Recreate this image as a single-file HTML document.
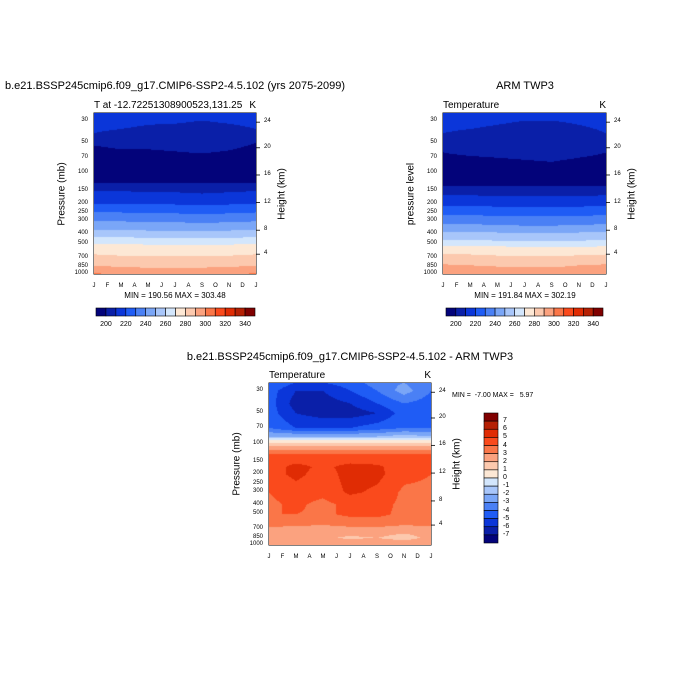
<!DOCTYPE html>
<html><head><meta charset="utf-8">
<style>
body{margin:0;background:#fff;}
#root{position:relative;width:700px;height:700px;background:#fff;font-family:"Liberation Sans",sans-serif;color:#000;}
.t{position:absolute;white-space:pre;}
canvas{position:absolute;}
svg{position:absolute;left:0;top:0;}
</style></head>
<body>
<div id="root">
<svg id="ov" width="700" height="700"></svg>
</div>
<script>
// ---- data ----
const months = ["J","F","M","A","M","J","J","A","S","O","N","D","J"];
const gridMonths = [0,2,4,6,8,10,12];
const pTicks = [30,50,70,100,150,200,250,300,400,500,700,850,1000];
const hTicks = ["24","20","16","12","8","4"];
const hTickFrac = [0.057,0.216,0.385,0.556,0.728,0.877];
const tLevels = [200,210,220,230,240,250,260,270,280,290,300,310,320,330,340];
const tLabels = ["200","220","240","260","280","300","320","340"];
const dLevels = [-7,-6,-5,-4,-3,-2,-1,0,1,2,3,4,5,6,7];
const dLabels = ["7","6","5","4","3","2","1","0","-1","-2","-3","-4","-5","-6","-7"];
const colors = ["#03037a","#0a1fa8","#0b36d9","#1f5cf5","#4a80f5","#7aa6f7","#a8c6fa","#d3e6fc","#fde8d5","#fcc9ae","#fba27f","#fa7648","#fa4a1c","#e02c04","#b52004","#800000"];

const modelP = [25,30,40,50,70,100,125,150,200,250,300,400,500,600,700,850,925,1000];
const modelT = [
[214,214,213,213,212,213,214],
[212,212,211,211,210,211,212],
[210,209,208,207,206,207,209],
[201,203,203,204,205,203,200],
[195,196,196,197,198,197,195],
[193,194,194,195,195,194,193],
[200,200,200,200,200,200,200],
[210,210,209,209,208,209,210],
[220,220,219,219,218,219,220],
[231,231,230,230,229,230,231],
[240,240,239,239,238,239,240],
[255,255,254,254,253,254,255],
[270,270,269,269,268,269,270],
[278,277,277,277,277,277,278],
[283,282,282,282,282,282,283],
[291,290,289,289,289,290,291],
[296,295,293,293,294,295,296],
[301,300,298,298,299,300,301]];

const obsP = [25,30,40,50,62,70,77,100,135,150,165,210,260,320,380,460,530,640,820,1000];
const obsT = [
[214,214,214,214,214,214,214],
[212,212,211,210,210,211,212],
[210,209,208,207,206,208,210],
[205,205,205,205,205,205,205],
[200,202,203,204,204,203,200],
[198,199,200,201,202,200,198],
[196,197,198,199,200,198,196],
[193,193,194,194,194,194,193],
[200,200,200,200,200,200,200],
[205,205,205,205,205,205,205],
[210,210,209,209,209,209,210],
[220,220,219,219,219,219,220],
[230,230,229,229,229,229,230],
[240,240,239,238,238,239,240],
[250,250,249,248,248,249,250],
[260,260,259,258,258,259,260],
[270,270,270,269,269,269,270],
[280,280,279,279,279,279,280],
[291,290,289,288,288,290,291],
[298,297,296,296,296,297,298]];

const diffP = [25,30,40,50,70,85,95,110,130,170,200,300,400,500,600,700,850,1000];
const diffT = [
[-4,-5,-5,-4.5,-3.5,-3,-4],
[-4.5,-6,-6,-5,-4,-2.5,-4],
[-4.5,-6.5,-6.5,-6,-5,-4,-4.5],
[-4.5,-6,-6.5,-6.5,-6,-4.5,-4.5],
[-4,-5,-5,-5,-4.5,-4,-4],
[-2,-2,-2,-2,-2,-1.5,-2],
[0.5,0.5,0.5,0.5,0.5,0.5,0.5],
[2.5,2.5,2.5,2.5,2.5,2.5,2.5],
[4.2,4.3,4.3,4.3,4.2,4.2,4.2],
[4.5,5.3,4.8,5.3,5.2,4.4,4.2],
[4.5,5.3,4.5,5.4,5.3,4.3,4.0],
[4.0,4.5,4.3,5.2,4.8,3.8,3.8],
[3.8,4.2,3.7,4.3,4.3,3.8,3.8],
[4.0,4.0,3.8,4.2,4.2,3.8,3.8],
[3.5,3.5,3.3,3.5,3.6,3.3,3.5],
[2.8,2.5,2.5,2.7,2.7,2.5,2.6],
[2.6,2.3,2.2,1.8,2.0,1.5,2.3],
[3,3,3,3,3,3,3]];

// ---- helpers ----
const root = document.getElementById('root');
const ov = document.getElementById('ov');
const NS = "http://www.w3.org/2000/svg";
const P_TOP = 25.2, P_BOT = 1000;
function text(x,y,s,size,opts){
  const d=document.createElement('div');
  d.className='t';d.textContent=s;d.style.fontSize=size+'px';
  d.style.left=x+'px';d.style.top=y+'px';
  if(opts&&opts.align==='center')d.style.transform='translateX(-50%)';
  if(opts&&opts.align==='right')d.style.transform='translateX(-100%)';
  if(opts&&opts.rot){d.style.transform='translate(-50%,-50%) rotate(-90deg)';}
  
  
  root.appendChild(d);return d;
}
function line(x1,y1,x2,y2,w){
  const l=document.createElementNS(NS,'line');
  l.setAttribute('x1',x1);l.setAttribute('y1',y1);l.setAttribute('x2',x2);l.setAttribute('y2',y2);
  l.setAttribute('stroke','#000');l.setAttribute('stroke-width',w||0.8);
  
  
  ov.appendChild(l);
}
function interp(P,G,p,m){
  const lp=Math.log(p);
  let i=0;while(i<P.length-2&&Math.log(P[i+1])<lp)i++;
  let fy=(lp-Math.log(P[i]))/(Math.log(P[i+1])-Math.log(P[i]));fy=Math.max(0,Math.min(1,fy));
  let j=0;while(j<gridMonths.length-2&&gridMonths[j+1]<m)j++;
  let fx=(m-gridMonths[j])/(gridMonths[j+1]-gridMonths[j]);fx=Math.max(0,Math.min(1,fx));
  const a=G[i][j]*(1-fx)+G[i][j+1]*fx, b=G[i+1][j]*(1-fx)+G[i+1][j+1]*fx;
  return a*(1-fy)+b*fy;
}
function levelIdx(v,levels){let k=0;while(k<levels.length&&v>=levels[k])k++;return k;}

function panel(o){
  const W=o.x1-o.x0,H=o.y1-o.y0;
  const yOf=p=>o.y0+(Math.log(p)-Math.log(P_TOP))/(Math.log(P_BOT)-Math.log(P_TOP))*H;
  const xOf=m=>o.x0+m/12*W;
  const c=document.createElement('canvas');
  c.width=W;c.height=H;c.style.left=o.x0+'px';c.style.top=o.y0+'px';
  
  
  root.appendChild(c);
  const ctx=c.getContext('2d');
  for(let py=0;py<H;py++){
    const p=Math.exp(Math.log(P_TOP)+(py+0.5)/H*(Math.log(P_BOT)-Math.log(P_TOP)));
    for(let px=0;px<W;px++){
      const m=(px+0.5)/W*12;
      const v=interp(o.P,o.G,p,m);
      ctx.fillStyle=colors[levelIdx(v,o.levels)];
      ctx.fillRect(px,py,1,1);
    }
  }
  const r=document.createElementNS(NS,'rect');
  r.setAttribute('x',o.x0);r.setAttribute('y',o.y0);r.setAttribute('width',W);r.setAttribute('height',H);
  r.setAttribute('fill','none');r.setAttribute('stroke','#000');r.setAttribute('stroke-width',1);
  
  
  ov.appendChild(r);
  months.forEach((mn,i)=>{
    const x=xOf(i);
    line(x,o.y1,x,o.y1-4);line(x,o.y0,x,o.y0+4);
    text(x,o.y1+9,mn,6,{align:'center',name:'month-tick-label'});
  });
  pTicks.forEach(p=>{
    const y=yOf(p);
    line(o.x0,y,o.x0+4,y);line(o.x1,y,o.x1-4,y);
    text(o.x0-6,y-4,String(p),6,{align:'right',name:'pressure-tick-label'});
  });
  hTicks.forEach((h,i)=>{
    const y=o.y0+hTickFrac[i]*H;
    line(o.x1,y,o.x1+4,y);
    text(o.x1+8,y-4,h,6,{name:'height-tick-label'});
  });
  text(o.x0-32,(o.y0+o.y1)/2,o.ylab,10,{rot:true,name:'y-axis-title'});
  text(o.x1+26,(o.y0+o.y1)/2,'Height (km)',10,{rot:true,name:'height-axis-title'});
  text(o.x0,o.y0-13,o.left,10,{name:'subtitle-left'});
  text(o.x1,o.y0-13,'K',10,{align:'right',name:'units-label'});
}
function hbar(x0,x1,y0,y1,name){
  const n=colors.length,w=(x1-x0)/n;
  colors.forEach((col,i)=>{
    const r=document.createElementNS(NS,'rect');
    r.setAttribute('x',x0+i*w);r.setAttribute('y',y0);r.setAttribute('width',w);r.setAttribute('height',y1-y0);
    r.setAttribute('fill',col);r.setAttribute('stroke','#000');r.setAttribute('stroke-width',0.6);
    
    
    ov.appendChild(r);
  });
  tLabels.forEach((s,i)=>text(x0+(2*i+1)*w,y1+5,s,7,{align:'center',name:name+'-label'}));
}
function vbar(x0,x1,y0,y1,name){
  const n=colors.length,h=(y1-y0)/n;
  colors.slice().reverse().forEach((col,i)=>{
    const r=document.createElementNS(NS,'rect');
    r.setAttribute('x',x0);r.setAttribute('y',y0+i*h);r.setAttribute('width',x1-x0);r.setAttribute('height',h);
    r.setAttribute('fill',col);r.setAttribute('stroke','#000');r.setAttribute('stroke-width',0.6);
    
    
    ov.appendChild(r);
  });
  dLabels.forEach((s,i)=>text(x1+5,y0+(i+1)*h-4,s,7,{name:name+'-label'}));
}

// titles
text(175,80,'b.e21.BSSP245cmip6.f09_g17.CMIP6-SSP2-4.5.102 (yrs 2075-2099)',11,{align:'center',name:'model-panel-title'});
text(525,80,'ARM TWP3',11,{align:'center',name:'obs-panel-title'});
text(350,351,'b.e21.BSSP245cmip6.f09_g17.CMIP6-SSP2-4.5.102 - ARM TWP3',11,{align:'center',name:'diff-panel-title'});

panel({name:'model',x0:94,x1:256,y0:113,y1:274,P:modelP,G:modelT,levels:tLevels,ylab:'Pressure (mb)',left:'T at -12.72251308900523,131.25'});
panel({name:'obs',x0:443,x1:606,y0:113,y1:274,P:obsP,G:obsT,levels:tLevels,ylab:'pressure level',left:'Temperature'});
panel({name:'diff',x0:269,x1:431,y0:383,y1:545,P:diffP,G:diffT,levels:dLevels,ylab:'Pressure (mb)',left:'Temperature'});

text(175,291,'MIN = 190.56 MAX = 303.48',8,{align:'center',name:'model-min-max'});
text(525,291,'MIN = 191.84 MAX = 302.19',8,{align:'center',name:'obs-min-max'});
text(452,392,'MIN =  -7.00 MAX =   5.97',7,{name:'diff-min-max'});

hbar(96,255,308,316,'model-colorbar');
hbar(446,603,308,316,'obs-colorbar');
vbar(484,498,413,543,'diff-colorbar');
</script>
</body></html>
